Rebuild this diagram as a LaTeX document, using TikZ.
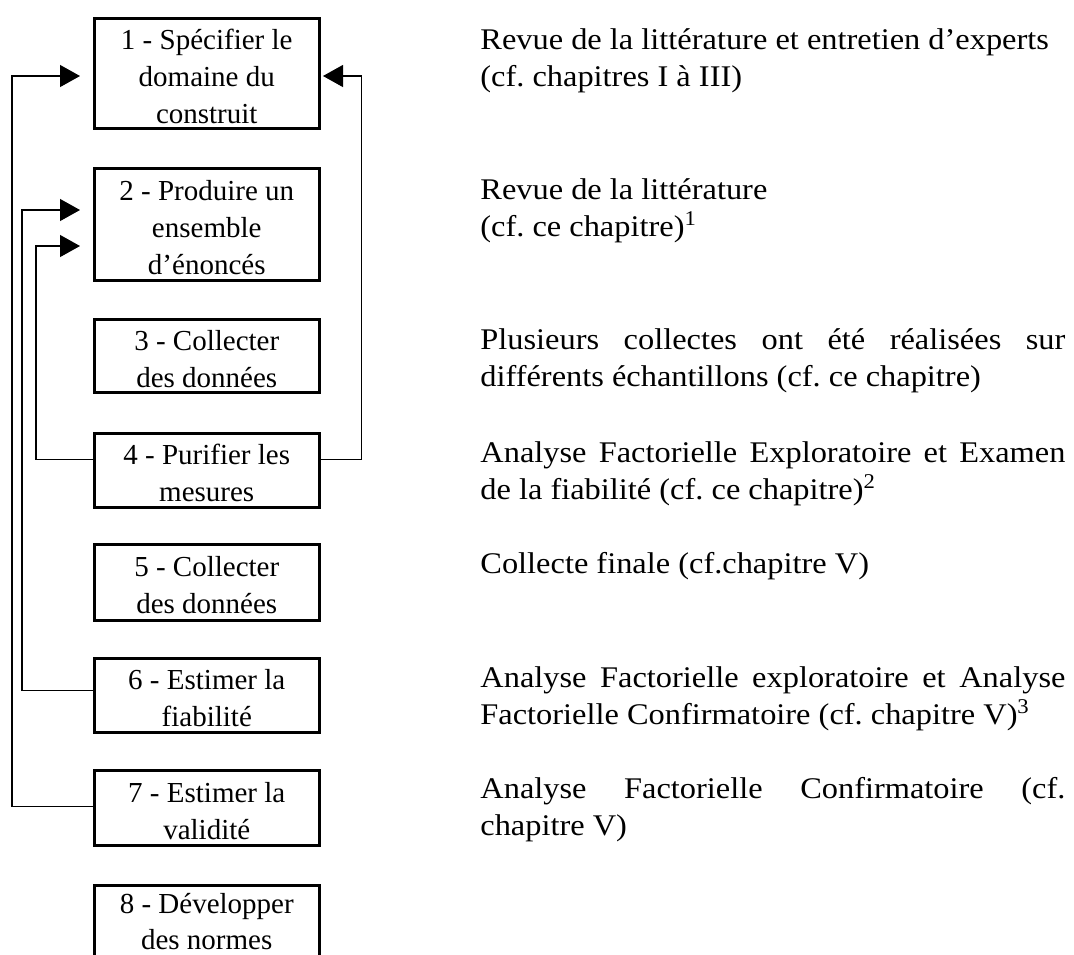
\documentclass[tikz,border=0pt]{standalone}
\usepackage{fontspec}
\setmainfont{Liberation Serif}
\newfontfamily\descfam[FakeStretch=1.08]{Liberation Serif}
\usetikzlibrary{arrows.meta}
\newcommand\boxfont{\frenchspacing\fontsize{14.5}{18.5}\selectfont}
\newcommand\descfont{\frenchspacing\descfam\fontsize{15}{18.5}\selectfont}
\newcommand\bs{\rule{0pt}{13pt}}
\begin{document}
\begin{tikzpicture}[x=0.5pt,y=-0.5pt,
  box/.style={draw, line width=1.25pt, rectangle, anchor=north west,
    minimum width=112.5pt, inner sep=0pt, align=center, font=\boxfont},
  desc/.style={anchor=base west, text width=292.5pt, align=justify,
    inner sep=0pt, font=\descfont},
  conn/.style={line width=0.6pt},
  arr/.style={conn, -{Triangle[length=10pt,width=11pt]}}]
\clip (0,0) rectangle (1074,954);
\path[use as bounding box] (0,0) rectangle (1074,954);

% boxes
\node[box, minimum height=55pt]   (b1) at (93,17)  {\bs 1 - Spécifier le\\domaine du\\construit};
\node[box, minimum height=56pt]   (b2) at (93,167) {\bs 2 - Produire un\\ensemble\\d’énoncés};
\node[box, minimum height=36.5pt] (b3) at (93,318) {\bs 3 - Collecter\\des données};
\node[box, minimum height=37pt]   (b4) at (93,432) {\bs 4 - Purifier les\\mesures};
\node[box, minimum height=38pt]   (b5) at (93,543) {\bs 5 - Collecter\\des données};
\node[box, minimum height=37pt]   (b6) at (93,657) {\bs 6 - Estimer la\\fiabilité};
\node[box, minimum height=37.5pt] (b7) at (93,769) {\bs 7 - Estimer la\\validité};
\node[box, minimum height=40pt, font=\frenchspacing\fontsize{14.5}{18}\selectfont]
  (b8) at (93,884) {\bs 8 - Développer\\des normes\rule[-7pt]{0pt}{0pt}};

% descriptions
\node[desc] (d1) at (480,49)  {Revue de la littérature et entretien d’experts\newline(cf. chapitres I à III)};
\node[desc] (d2) at (480,199) {Revue de la littérature\newline(cf. ce chapitre)\textsuperscript{1}};
\node[desc] (d3) at (480,349) {Plusieurs collectes ont été réalisées sur\linebreak différents échantillons (cf. ce chapitre)};
\node[desc] (d4) at (480,462) {Analyse Factorielle Exploratoire et Examen\linebreak de la fiabilité (cf. ce chapitre)\textsuperscript{2}};
\node[desc] (d5) at (480,573) {Collecte finale (cf.chapitre V)};
\node[desc] (d6) at (480,687) {Analyse Factorielle exploratoire et Analyse\linebreak Factorielle Confirmatoire (cf. chapitre V)\textsuperscript{3}};
\node[desc] (d7) at (480,798) {Analyse Factorielle Confirmatoire (cf.\linebreak chapitre V)};

% arrow tips
\coordinate (t1) at (80,76);
\coordinate (t2) at (80,210);
\coordinate (t3) at (80,246);
\coordinate (t4) at (323,76);

% connectors
\draw[arr] ([yshift=0.75pt]b7.west) -- ++(-81,0) |- (t1);
\draw[arr] ([yshift=2.5pt]b6.west) -- ++(-71,0) |- (t2);
\draw[arr] ([yshift=5.5pt]b4.west) -- ++(-57,0) |- (t3);
\draw[arr] ([yshift=5.5pt]b4.east) -- ++(41,0) |- (t4);
\end{tikzpicture}
\end{document}
